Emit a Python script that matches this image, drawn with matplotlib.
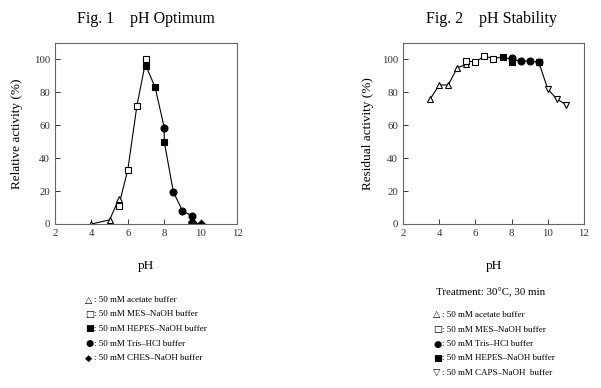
import matplotlib
matplotlib.use("Agg")
import matplotlib.pyplot as plt

plt.rcParams["font.family"] = ["Liberation Serif", "DejaVu Sans"]

# Fig. 1  pH optimum (relative activity, %)
opt_acetate_ph = [4.0, 5.0, 5.5]
opt_acetate = [0.0, 2.5, 15.0]
opt_mes_ph = [5.5, 6.0, 6.5, 7.0]
opt_mes = [11.0, 33.0, 72.0, 100.0]
opt_hepes_ph = [7.0, 7.5, 8.0]
opt_hepes = [96.0, 83.0, 50.0]
opt_tris_ph = [8.0, 8.5, 9.0, 9.5]
opt_tris = [58.5, 19.5, 8.0, 5.0]
opt_ches_ph = [9.5, 10.0]
opt_ches = [1.0, 0.0]
# order the connecting curve follows
opt_curve_ph = [4.0, 5.0, 5.5, 5.5, 6.0, 6.5, 7.0, 7.0, 7.5, 8.0, 8.0, 8.5, 9.0, 9.5, 9.5, 10.0]
opt_curve = [0.0, 2.5, 15.0, 11.0, 33.0, 72.0, 100.0, 96.0, 83.0, 58.5, 50.0, 19.5, 8.0, 5.0, 1.0, 0.0]

# Fig. 2  pH stability (residual activity, %)
st_acetate_ph = [3.5, 4.0, 4.5, 5.0, 5.5]
st_acetate = [76.0, 84.5, 84.5, 95.0, 97.0]
st_mes_ph = [5.5, 6.0, 6.5, 7.0]
st_mes = [99.0, 98.5, 102.0, 100.5]
st_tris_ph = [8.0, 8.5, 9.0, 9.5]
st_tris = [101.0, 99.0, 99.0, 98.5]
st_hepes_ph = [7.5, 8.0, 9.5]
st_hepes = [101.5, 98.5, 98.5]
st_caps_ph = [10.0, 10.5, 11.0]
st_caps = [82.0, 76.0, 72.5]
st_curve_ph = [3.5, 4.0, 4.5, 5.0, 5.5, 5.5, 6.0, 6.5, 7.0, 7.5, 8.0, 8.5, 9.0, 9.5, 10.0, 10.5, 11.0]
st_curve = [76.0, 84.5, 84.5, 95.0, 97.0, 99.0, 98.5, 102.0, 100.5, 101.5, 100.0, 99.0, 99.0, 98.5, 82.0, 76.0, 72.5]

legend1_sym = ["\u25b3", "\u25a1", "\u25a0", "\u25cf", "\u25c6"]
legend1 = [": 50 mM acetate buffer", ": 50 mM MES\u2013NaOH buffer",
           ": 50 mM HEPES\u2013NaOH buffer", ": 50 mM Tris\u2013HCl buffer",
           ": 50 mM CHES\u2013NaOH buffer"]
legend2_sym = ["\u25b3", "\u25a1", "\u25cf", "\u25a0", "\u25bd"]
legend2 = [": 50 mM acetate buffer", ": 50 mM MES\u2013NaOH buffer",
           ": 50 mM Tris\u2013HCl buffer", ": 50 mM HEPES\u2013NaOH buffer",
           ": 50 mM CAPS\u2013NaOH  buffer"]

fig = plt.figure(figsize=(6.01, 3.88), dpi=100)
ax1 = fig.add_axes([0.0915, 0.4227, 0.303, 0.4665])
ax2 = fig.add_axes([0.6706, 0.4227, 0.301, 0.4665])

ms = 5
kw_open = dict(ls="none", mfc="white", mec="black", mew=0.8, ms=ms)
kw_fill = dict(ls="none", mfc="black", mec="black", mew=0.8, ms=ms)

ax1.plot(opt_curve_ph, opt_curve, color="black", lw=0.8)
ax1.plot(opt_acetate_ph, opt_acetate, marker="^", **kw_open)
ax1.plot(opt_mes_ph, opt_mes, marker="s", **kw_open)
ax1.plot(opt_hepes_ph, opt_hepes, marker="s", **kw_fill)
ax1.plot(opt_tris_ph, opt_tris, marker="o", **kw_fill)
ax1.plot(opt_ches_ph, opt_ches, marker="D", ls="none", color="black", ms=3.8)

ax2.plot(st_curve_ph, st_curve, color="black", lw=0.8)
ax2.plot(st_acetate_ph, st_acetate, marker="^", **kw_open)
ax2.plot(st_mes_ph, st_mes, marker="s", **kw_open)
ax2.plot(st_hepes_ph, st_hepes, marker="s", **kw_fill)
ax2.plot(st_tris_ph, st_tris, marker="o", **kw_fill)
ax2.plot(st_caps_ph, st_caps, marker="v", **kw_open)

for ax, ylab, pad in [(ax1, "Relative activity (%)", 8), (ax2, "Residual activity (%)", 6)]:
    ax.set_xlim(2, 12)
    ax.set_ylim(0, 110)
    ax.set_xticks([2, 4, 6, 8, 10, 12])
    ax.set_yticks([0, 20, 40, 60, 80, 100])
    ax.tick_params(direction="in", length=3.5, width=0.7, labelsize=7.8, colors="#333")
    for s in ax.spines.values():
        s.set_color("#666")
        s.set_linewidth(0.8)
    ax.set_xlabel("pH", fontsize=9.5, labelpad=16)
    ax.set_ylabel(ylab, fontsize=9.5, labelpad=pad)

fig.text(0.242, 1 - 19 / 388, "Fig. 1    pH Optimum", ha="center", va="center", fontsize=11.5)
fig.text(0.817, 1 - 19 / 388, "Fig. 2    pH Stability", ha="center", va="center", fontsize=11.5)
fig.text(0.817, 1 - 293 / 388, "Treatment: 30\u00b0C, 30 min", ha="center", va="center", fontsize=7.8)

for rows, syms, x0, y0 in [(legend1, legend1_sym, 85, 300), (legend2, legend2_sym, 433, 315)]:
    for i, (s, t) in enumerate(zip(syms, rows)):
        y = 1 - (y0 + 14.5 * i) / 388
        fig.text(x0 / 601, y, s, ha="left", va="center", fontsize=6.8, family=["DejaVu Sans"])
        fig.text((x0 + 9) / 601, y, t, ha="left", va="center", fontsize=6.5)

fig.savefig("out.png", dpi=100)
